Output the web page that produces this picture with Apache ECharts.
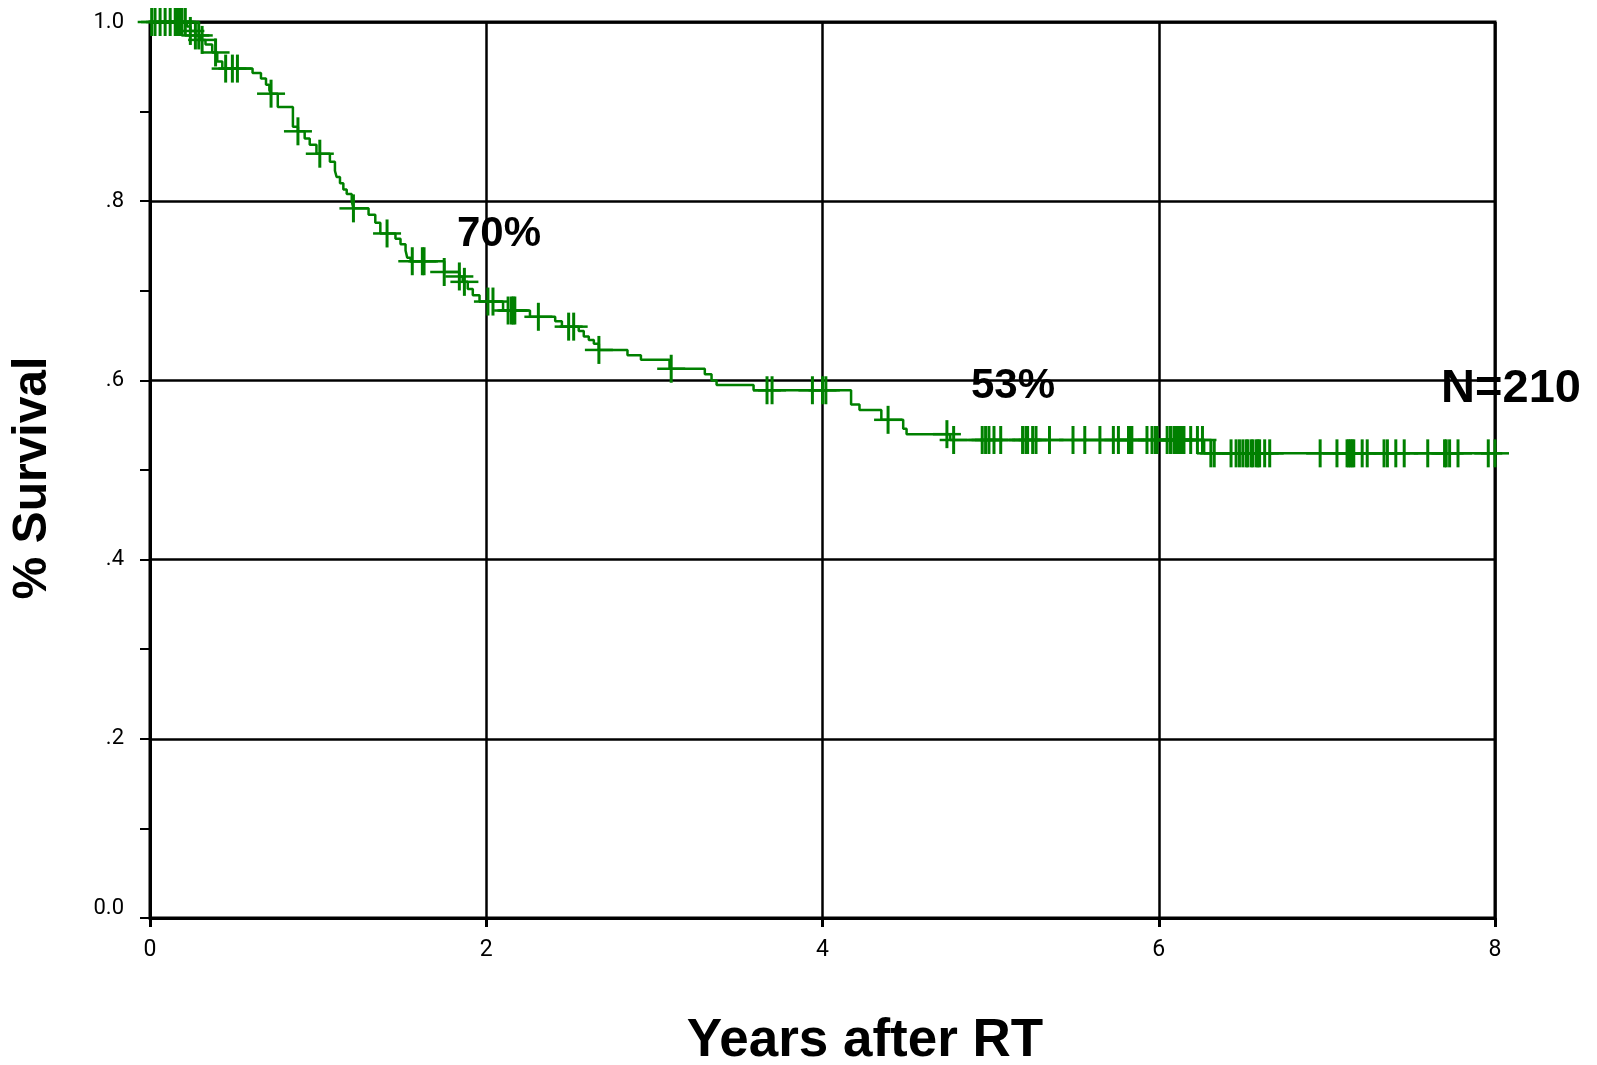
<!DOCTYPE html>
<html>
<head>
<meta charset="utf-8">
<script src="https://cdn.jsdelivr.net/npm/echarts@6/dist/echarts.min.js"></script>
<style>
  html, body { margin: 0; padding: 0; background: #ffffff; }
  #chart { width: 1597px; height: 1065px; }
</style>
</head>
<body>
<div id="chart"></div>
<script>
// Kaplan-Meier step data: event times (years) and survival after each event
const eventTimes = [0, 0.22, 0.24, 0.27, 0.30, 0.33, 0.37, 0.40, 0.43,
  0.61, 0.66, 0.69, 0.71, 0.72, 0.76, 0.85, 0.88, 0.92, 0.95, 0.99,
  1.07, 1.10, 1.11, 1.13, 1.15, 1.17, 1.20, 1.21,
  1.30, 1.34, 1.37, 1.46, 1.49, 1.52, 1.53, 1.55,
  1.75, 1.84, 1.86, 1.89, 1.92, 1.96,
  2.10, 2.26, 2.41, 2.45, 2.55, 2.58, 2.61, 2.64, 2.67,
  2.84, 2.92, 3.09,
  3.30, 3.34, 3.37, 3.59,
  4.17, 4.22, 4.35, 4.48, 4.50, 4.76,
  6.27];
const survival = [1.0, 0.995, 0.990, 0.985, 0.980, 0.975, 0.966, 0.956, 0.948,
  0.943, 0.937, 0.930, 0.924, 0.920, 0.905, 0.883, 0.878, 0.870, 0.863, 0.853,
  0.844, 0.834, 0.827, 0.820, 0.813, 0.808, 0.800, 0.792,
  0.785, 0.776, 0.764, 0.758, 0.752, 0.745, 0.737, 0.733,
  0.721, 0.716, 0.710, 0.702, 0.695, 0.688,
  0.678, 0.671, 0.666, 0.660, 0.655, 0.649, 0.645, 0.641, 0.634,
  0.628, 0.623, 0.613,
  0.607, 0.600, 0.595, 0.589,
  0.573, 0.567, 0.556, 0.546, 0.540, 0.5335,
  0.5186];
const lastFollowUp = 8.16;

// Censored observation times (years)
const censorTimes = [0.01, 0.03, 0.06, 0.09, 0.12, 0.15, 0.16, 0.17, 0.18, 0.19, 0.21,
  0.24, 0.27, 0.29, 0.31, 0.39, 0.45, 0.49, 0.52, 0.72, 0.88, 1.01, 1.21, 1.41,
  1.56, 1.62, 1.63, 1.75, 1.84, 1.87, 2.01, 2.04, 2.13, 2.15, 2.16, 2.17, 2.31,
  2.49, 2.52, 2.67, 3.10, 3.67, 3.70, 3.94, 4.00, 4.02, 4.39,
  4.74, 4.78, 4.95, 4.97, 4.99, 5.02, 5.06, 5.19, 5.21, 5.22, 5.25, 5.27, 5.35,
  5.49, 5.56, 5.65, 5.73, 5.76, 5.82, 5.83, 5.84, 5.93, 5.96, 5.98, 5.99,
  6.05, 6.07, 6.09, 6.10, 6.11, 6.12, 6.13, 6.14, 6.15, 6.19, 6.23, 6.26,
  6.31, 6.33, 6.43, 6.46, 6.48, 6.50, 6.52, 6.53, 6.55, 6.56, 6.58, 6.59, 6.60,
  6.63, 6.66, 6.96, 7.06, 7.12, 7.13, 7.14, 7.15, 7.16, 7.21, 7.24, 7.34, 7.36,
  7.41, 7.46, 7.60, 7.70, 7.71, 7.73, 7.78, 7.96, 8.00];

// Axis ticks and labels
const xTicks = [0, 2, 4, 6, 8];
const yTickLabels = {0: '0.0', 0.2: '.2', 0.4: '.4', 0.6: '.6', 0.8: '.8', 1: '1.0'};

// Annotation texts
const yTitle = '% Survival';
const xTitle = 'Years after RT';
const note3yr = '70%';
const note5yr = '53%';
const noteN = 'N=210';

const GREEN = '#008000';
const TICKFONT = 'Roboto';

function survAt(t) {
  let s = survival[0];
  for (let i = 0; i < eventTimes.length; i++) {
    if (eventTimes[i] <= t + 1e-9) s = survival[i]; else break;
  }
  return s;
}

const curveData = eventTimes.map((t, i) => [t, survival[i]]);
curveData.push([lastFollowUp, survival[survival.length - 1]]);
const censorData = censorTimes.map(t => [t, survAt(t)]);

const chart = echarts.init(document.getElementById('chart'), null, {renderer: 'canvas'});
const font = s => 'bold ' + s + 'px "Liberation Sans", Arial, sans-serif';

chart.setOption({
  animation: false,
  backgroundColor: '#ffffff',
  grid: {
    left: 150, top: 22, width: 1345, height: 896,
    show: true, borderColor: '#000', borderWidth: 3, backgroundColor: 'transparent'
  },
  xAxis: {
    type: 'value', min: 0, max: 8, interval: 2,
    axisLine: {show: true, lineStyle: {color: '#000', width: 3}},
    axisTick: {show: true, inside: false, length: 9, lineStyle: {color: '#000', width: 3}},
    splitLine: {show: true, lineStyle: {color: '#000', width: 2.5}},
    axisLabel: {
      color: '#000', fontSize: 23, fontFamily: TICKFONT, margin: 21,
      formatter: v => xTicks.includes(v) ? String(v) : ''
    }
  },
  yAxis: {
    type: 'value', min: 0, max: 1, interval: 0.2,
    axisLine: {show: true, lineStyle: {color: '#000', width: 3}},
    axisTick: {show: true, inside: false, length: 10, lineStyle: {color: '#000', width: 2}},
    minorTick: {show: true, splitNumber: 2, length: 10, lineStyle: {color: '#000', width: 2}},
    splitLine: {show: true, lineStyle: {color: '#000', width: 2.5}},
    axisLabel: {
      color: '#000', fontSize: 22, fontFamily: TICKFONT, margin: 26,
      formatter: v => {
        const key = Math.round(v * 10) / 10;
        const s = yTickLabels[key] || '';
        return key === 0 ? '{lo|' + s + '}' : s;
      },
      rich: {
        lo: {fontSize: 22, color: '#000', fontFamily: TICKFONT, padding: [0, 0, 20, 0]}
      }
    }
  },
  series: [
    {
      type: 'line', data: curveData, step: 'end', symbol: 'none', clip: false,
      lineStyle: {color: GREEN, width: 2.5}, z: 3
    },
    {
      type: 'custom', data: censorData, clip: false, z: 4,
      renderItem: (params, api) => {
        const p = api.coord([api.value(0), api.value(1)]);
        return {
          type: 'group',
          children: [
            {type: 'line', shape: {x1: p[0] - 14, y1: p[1], x2: p[0] + 14, y2: p[1]},
             style: {stroke: GREEN, lineWidth: 2.5}},
            {type: 'line', shape: {x1: p[0], y1: p[1] - 14, x2: p[0], y2: p[1] + 14},
             style: {stroke: GREEN, lineWidth: 3}}
          ]
        };
      }
    }
  ],
  graphic: [
    {type: 'text', x: 33, y: 478, rotation: Math.PI / 2,
     style: {text: yTitle, font: font(48), fill: '#000', align: 'center', verticalAlign: 'middle'}},
    {type: 'text', x: 865, y: 1041,
     style: {text: xTitle, font: font(53), fill: '#000', align: 'center', verticalAlign: 'middle'}},
    {type: 'text', x: 499, y: 234,
     style: {text: note3yr, font: font(42), fill: '#000', align: 'center', verticalAlign: 'middle'}},
    {type: 'text', x: 1013, y: 386,
     style: {text: note5yr, font: font(42), fill: '#000', align: 'center', verticalAlign: 'middle'}},
    {type: 'text', x: 1511, y: 389,
     style: {text: noteN, font: font(47), fill: '#000', align: 'center', verticalAlign: 'middle'}}
  ]
});
</script>
</body>
</html>
